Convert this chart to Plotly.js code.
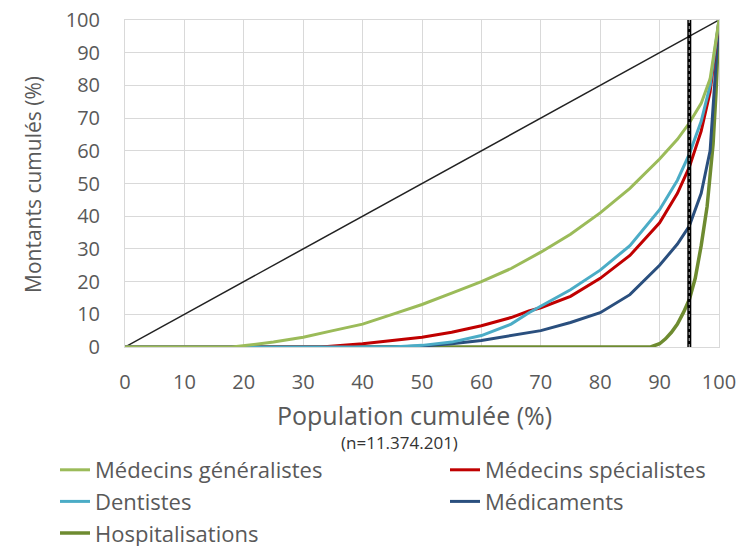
<!DOCTYPE html>
<html>
<head>
<meta charset="utf-8">
<script src="https://cdn.plot.ly/plotly-3.0.1.min.js"></script>
<style>html,body{margin:0;padding:0;background:#fff;}#chart{width:749px;height:546px;}</style>
</head>
<body>
<div id="chart"></div>
<script>
// Data (Lorenz curves)
const xTicks = [0,10,20,30,40,50,60,70,80,90,100];
const yTicks = [0,10,20,30,40,50,60,70,80,90,100];

const egaliteX = [0,100];
const egaliteY = [0,100];

const generalistesX = [0,18,25,30,35,40,45,50,55,60,65,70,75,80,85,90,93,95,97,98.5,100];
const generalistesY = [0,0,1.5,3,5,7,10,13,16.5,20,24,29,34.5,41,48.5,57.5,63.5,68.5,74.5,82,100];

const specialistesX = [0,33,40,45,50,55,60,65,68,70,75,80,85,90,93,95,97,98.5,100];
const specialistesY = [0,0,1,2,3,4.5,6.5,9,11,12,15.5,21,28,38,47,55,66,78,100];

const dentistesX = [0,45,50,55,60,65,68,70,75,80,85,90,93,95,97,98.5,100];
const dentistesY = [0,0,0.5,1.5,3.5,7,10.5,12.5,17.5,23.5,31,42,51,59,69,80,100];

const medicamentsX = [0,45,50,55,60,65,70,75,80,85,90,93,95,97,98.5,100];
const medicamentsY = [0,0,0.3,1,2,3.5,5,7.5,10.5,16,25,31.5,37,47,60,100];

const hospitX = [0,88.5,90,91,92,93,94,95,96,97,98,99,99.5,100];
const hospitY = [0,0,1,2.5,4.5,7,10.5,14.5,21,31,43,62,78,100];

const seuilX = [95,95];
const seuilY = [0,100];

const names = ["Médecins généralistes","Médecins spécialistes","Dentistes","Médicaments","Hospitalisations"];
const colors = ["#9BBB59","#C00000","#4BACC6","#2A4F7E","#6E8B30"];

const traces = [
  {x: egaliteX, y: egaliteY, mode:'lines', line:{color:'#222', width:1.5}, showlegend:false, hoverinfo:'skip'},
  {x: hospitX, y: hospitY, name: names[4], mode:'lines', line:{color:colors[4], width:3.5}, legend:'legend', legendrank:3},
  {x: medicamentsX, y: medicamentsY, name: names[3], mode:'lines', line:{color:colors[3], width:3}, legend:'legend2', legendrank:2},
  {x: specialistesX, y: specialistesY, name: names[1], mode:'lines', line:{color:colors[1], width:3}, legend:'legend2', legendrank:1},
  {x: dentistesX, y: dentistesY, name: names[2], mode:'lines', line:{color:colors[2], width:3}, legend:'legend', legendrank:2},
  {x: generalistesX, y: generalistesY, name: names[0], mode:'lines', line:{color:colors[0], width:3}, legend:'legend', legendrank:1},
  {x: seuilX, y: seuilY, mode:'lines', line:{color:'#000', width:4}, showlegend:false, hoverinfo:'skip'},
  {x: seuilX, y: seuilY, mode:'lines', line:{color:'#9a9a9a', width:1.2, dash:'dot'}, showlegend:false, hoverinfo:'skip'}
];

const font = "'Open Sans', Lato, sans-serif";
const legendBase = {
  orientation:'v', xref:'container', yref:'container',
  xanchor:'left', y:1-449/546, yanchor:'top',
  font:{size:22, color:'#595959', family:font},
  traceorder:'normal', bgcolor:'rgba(0,0,0,0)'
};
const layout = {
  width:749, height:546,
  margin:{l:125, r:30, t:20, b:199, autoexpand:false},
  paper_bgcolor:'#fff', plot_bgcolor:'#fff',
  font:{family:font, color:'#595959'},
  showlegend:true,
  xaxis:{
    range:[0,100], tickvals:xTicks, ticktext:xTicks.map(String),
    showgrid:true, gridcolor:'#D9D9D9', gridwidth:1,
    showline:true, linecolor:'#D9D9D9', mirror:true, zeroline:false,
    ticks:'', ticklabelstandoff:17, tickfont:{size:20, color:'#595959'}, automargin:false
  },
  yaxis:{
    range:[0,100], tickvals:yTicks, ticktext:yTicks.map(String),
    showgrid:true, gridcolor:'#D9D9D9', gridwidth:1,
    showline:true, linecolor:'#D9D9D9', mirror:true, zeroline:false,
    ticks:'', ticklabelstandoff:20, tickfont:{size:20, color:'#595959'}, automargin:false
  },
  legend: Object.assign({}, legendBase, {x:55/749}),
  legend2: Object.assign({}, legendBase, {x:445/749}),
  annotations:[
    {text:'Population cumulée (%)', xref:'paper', yref:'paper', x:(414-125)/594, y:(347-415)/327,
     xanchor:'center', yanchor:'middle', showarrow:false, font:{size:25, color:'#595959'}},
    {text:'Montants cumulés (%)', xref:'paper', yref:'paper', x:(33-125)/594, y:(347-185)/327,
     xanchor:'center', yanchor:'middle', textangle:-90, showarrow:false, font:{size:21, color:'#595959'}},
    {text:'(n=11.374.201)', xref:'paper', yref:'paper', x:(399-125)/594, y:(347-442)/327,
     xanchor:'center', yanchor:'middle', showarrow:false, font:{size:17, color:'#333'}}
  ]
};

Plotly.newPlot('chart', traces, layout, {displayModeBar:false, staticPlot:true});
</script>
</body>
</html>
